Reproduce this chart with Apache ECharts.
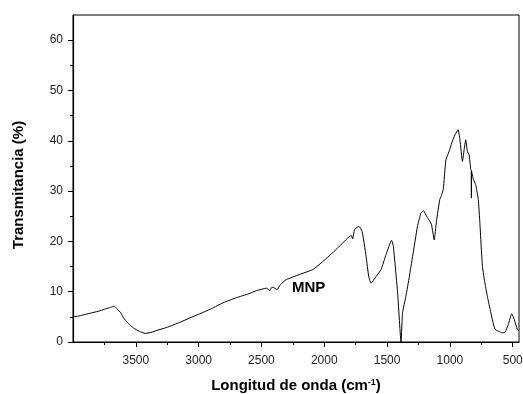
<!DOCTYPE html>
<html><head><meta charset="utf-8">
<script src="https://cdn.jsdelivr.net/npm/echarts@6/dist/echarts.min.js"></script>
<style>html,body{margin:0;padding:0;background:#fff}#c{width:523px;height:394px}</style>
</head><body><div id="c"></div>
<script>
const wavenumber = [4000,3950,3900,3850,3800,3750,3700,3672,3650,3620,3598,3560,3519,3470,3426,3380,3333,3254,3150,3069,3000,2900,2805,2700,2600,2540,2460,2434,2420,2408,2376,2349,2302,2200,2091,2011,1905,1813,1785,1773,1760,1725,1699,1667,1646,1627,1588,1548,1508,1464,1450,1416,1389,1377,1350,1323,1297,1258,1231,1210,1186,1159,1146,1125,1107,1081,1071,1053,1032,1006,985,959,935,920,900,887,874,861,847,834,830,829,828,813,795,774,763,741,720,702,680,662,645,635,610,583,560,535,508,495,480,464,452];
const transmittance = [5.0,5.2,5.5,5.8,6.1,6.5,6.9,7.1,6.6,5.8,4.8,3.7,2.8,2.1,1.7,1.9,2.3,2.9,3.9,4.8,5.5,6.6,7.8,8.8,9.6,10.2,10.7,10.2,10.8,10.9,10.4,11.4,12.4,13.4,14.4,16.0,18.4,20.7,21.2,20.5,22.3,23.0,22.0,17.0,13.0,11.7,13.0,14.4,17.4,20.2,19.0,9.7,0.0,5.8,9.1,13.0,17.0,23.0,25.6,26.1,25.0,24.0,23.3,20.3,24.0,28.3,28.9,30.3,36.2,37.9,39.6,41.2,42.2,40.2,35.9,38.2,40.2,37.9,37.2,34.3,34.1,28.6,34.0,32.3,31.3,28.3,24.3,15.0,11.5,9.1,6.5,4.4,2.8,2.4,2.1,1.8,2.0,3.5,5.6,5.0,3.8,2.6,2.2];
const xMajorTicks = [3500,3000,2500,2000,1500,1000,500];
const xMinorTicks = [3750,3250,2750,2250,1750,1250,750];
const yMajorTicks = [0,10,20,30,40,50,60];
const yMinorTicks = [5,15,25,35,45,55];
const sampleLabel = 'MNP';

const chart = echarts.init(document.getElementById('c'));
const font = 'Liberation Sans, Arial, sans-serif';
const grid = {left:73, right:4, top:15, bottom:52, show:true, borderColor:'#000', borderWidth:1, containLabel:false, outerBoundsMode:'none'};
const xBase = {type:'value', min:450, max:4000, inverse:true, position:'bottom', splitLine:{show:false}};
const yBase = {type:'value', min:0, max:65, position:'left', splitLine:{show:false}};
chart.setOption({
  animation:false,
  grid: grid,
  xAxis:[
    Object.assign({}, xBase, {
      axisLine:{lineStyle:{color:'#000', width:1.2}},
      axisTick:{customValues:xMajorTicks, length:5, lineStyle:{color:'#000'}},
      axisLabel:{customValues:xMajorTicks, formatter:v=>String(v), color:'#222', fontSize:12, fontFamily:font, margin:13},
      name:'Longitud de onda (cm{sup|-1})', nameLocation:'middle', nameGap:36,
      nameTextStyle:{fontSize:15, fontWeight:'bold', fontFamily:font, color:'#000',
        rich:{sup:{fontSize:9, fontWeight:'bold', fontFamily:font, color:'#000', verticalAlign:'top', padding:[0,0,7,0]}}}
    }),
    Object.assign({}, xBase, {
      axisLine:{show:false},
      axisTick:{customValues:xMinorTicks, length:3, lineStyle:{color:'#000'}},
      axisLabel:{show:false}
    })
  ],
  yAxis:[
    Object.assign({}, yBase, {
      axisLine:{show:true, lineStyle:{color:'#000', width:1.2}},
      axisTick:{show:true, customValues:yMajorTicks, length:5, lineStyle:{color:'#000'}},
      axisLabel:{customValues:yMajorTicks, formatter:v=>String(v), color:'#222', fontSize:12, fontFamily:font, margin:10},
      name:'Transmitancia (%)', nameLocation:'middle', nameGap:47, nameRotate:90,
      nameTextStyle:{fontSize:15, fontWeight:'bold', fontFamily:font, color:'#000', padding:[0,13,0,0]}
    }),
    Object.assign({}, yBase, {
      axisLine:{show:false},
      axisTick:{show:true, customValues:yMinorTicks, length:3, lineStyle:{color:'#000'}},
      axisLabel:{show:false}
    })
  ],
  graphic:[{type:'text', left:292, top:280, style:{text:sampleLabel, font:'bold 15px Liberation Sans, Arial, sans-serif', fill:'#000'}}],
  series:[{
    type:'line', xAxisIndex:0, yAxisIndex:0, symbol:'none', smooth:0.15,
    lineStyle:{color:'#000', width:1},
    data: wavenumber.map((w,i)=>[w, transmittance[i]])
  }]
});
</script></body></html>
